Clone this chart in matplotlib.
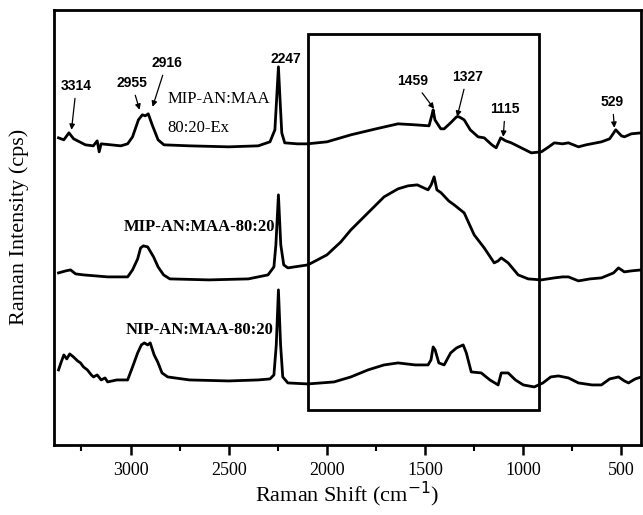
import matplotlib.pyplot as plt
from matplotlib.patches import Rectangle
from matplotlib.ticker import MultipleLocator

# Raman shift (cm-1) / intensite (u.a.)
x_ex = [3367, 3340, 3314, 3290, 3260, 3230, 3190, 3170, 3160, 3150, 3100, 3050, 3015, 2990,
        2960, 2940, 2925, 2910, 2890, 2860, 2830, 2700, 2500, 2350, 2290, 2265, 2255, 2247,
        2240, 2230, 2215, 2150, 2100, 2000, 1878, 1750, 1638, 1550, 1480, 1465, 1459, 1450,
        1420, 1403, 1370, 1340, 1327, 1301, 1270, 1230, 1199, 1160, 1138, 1115, 1090, 1061,
        1000, 959, 908, 870, 842, 800, 770, 719, 680, 602, 560, 529, 500, 485, 450, 398]
y_ex = [307, 305, 312, 306, 303, 300, 299, 304, 293, 301, 300, 299, 301, 308,
        325, 330, 329, 331, 320, 305, 300, 299, 298, 299, 303, 315, 350, 378,
        350, 312, 302, 301, 301, 303, 310, 316, 321, 320, 319, 330, 335, 325,
        316, 316, 322, 328, 328, 325, 315, 308, 307, 300, 297, 307, 304, 302,
        296, 292, 293, 298, 302, 301, 302, 298, 300, 303, 306, 315, 309, 308, 311, 312]

x_mip = [3367, 3330, 3306, 3280, 3240, 3117, 3015, 2990, 2964, 2949, 2935, 2913, 2898, 2883,
         2860, 2832, 2800, 2600, 2400, 2300, 2270, 2260, 2247, 2235, 2220, 2199, 2097, 2000,
         1929, 1878, 1791, 1709, 1638, 1587, 1540, 1485, 1469, 1454, 1440, 1418, 1380, 1352,
         1301, 1250, 1199, 1148, 1128, 1112, 1077, 1026, 975, 908, 842, 800, 770, 719, 660,
         602, 540, 515, 485, 450, 398]
y_mip = [172, 174, 175, 171, 170, 168, 168, 175, 186, 197, 199, 198, 193, 188,
         178, 170, 166, 165, 166, 170, 178, 200, 250, 200, 180, 177, 180, 190,
         203, 215, 232, 248, 256, 259, 260, 255, 260, 268, 255, 252, 244, 240,
         232, 210, 197, 182, 184, 187, 182, 170, 166, 165, 167, 168, 168, 164, 166,
         167, 172, 177, 173, 174, 175]

x_nip = [3367, 3355, 3340, 3325, 3310, 3291, 3270, 3255, 3240, 3220, 3200, 3189, 3170, 3150,
         3130, 3117, 3070, 3015, 2990, 2964, 2945, 2930, 2913, 2900, 2880, 2862, 2840, 2811,
         2700, 2500, 2350, 2290, 2270, 2258, 2247, 2236, 2225, 2199, 2097, 1964, 1878, 1791,
         1709, 1638, 1550, 1485, 1470, 1459, 1449, 1430, 1403, 1370, 1340, 1306, 1290, 1265,
         1214, 1170, 1128, 1112, 1077, 1040, 1000, 944, 900, 860, 821, 770, 719, 650, 602,
         560, 515, 485, 464, 430, 398]
y_nip = [75, 82, 90, 86, 91, 88, 84, 82, 78, 75, 70, 68, 70, 65,
         67, 63, 65, 65, 78, 92, 100, 102, 100, 102, 90, 83, 72, 68,
         65, 64, 65, 66, 70, 100, 155, 100, 68, 62, 61, 63, 68, 75,
         80, 82, 80, 80, 85, 98, 95, 82, 80, 92, 97, 100, 92, 73,
         72, 65, 60, 72, 72, 65, 60, 58, 62, 68, 69, 67, 62, 60, 60,
         66, 68, 64, 62, 66, 68]

# pics annotes : (texte, pointe x, pointe y, texte x, texte y)
peaks = [('3314', 3301, 315, 3276, 359),
         ('2955', 2954, 335, 2995, 362),
         ('2916', 2888, 338, 2816, 382),
         ('1459', 1454, 336, 1561, 364),
         ('1327', 1337, 328, 1286, 368),
         ('1115', 1102, 308, 1092, 336),
         ('529', 536, 317, 546, 343)]

plt.rcParams['font.family'] = 'Liberation Serif'
fig = plt.figure(figsize=(6.43, 5.15), dpi=100)
ax = fig.add_axes([0.084, 0.136, 0.913, 0.845])

for xs, ys in [(x_ex, y_ex), (x_mip, y_mip), (x_nip, y_nip)]:
    ax.plot(xs, ys, color='black', linewidth=2.0)

ax.add_patch(Rectangle((918, 35), 2097 - 918, 376, fill=False, edgecolor='black', linewidth=2.0))

for lab, xp, yp, xt, yt in peaks:
    ax.annotate(lab, xy=(xp, yp), xytext=(xt, yt), ha='center', va='center',
                fontsize=10, fontweight='bold', family='Liberation Sans',
                arrowprops=dict(arrowstyle='-|>', color='black', lw=0.9,
                                mutation_scale=8, shrinkA=2, shrinkB=0))
ax.text(2209, 386, '2247', ha='center', va='center', fontsize=10,
        fontweight='bold', family='Liberation Sans')

ax.text(2811, 346, 'MIP-AN:MAA', ha='left', va='center', fontsize=12)
ax.text(2811, 317, '80:20-Ex', ha='left', va='center', fontsize=12)
ax.text(2262, 218, 'MIP-AN:MAA-80:20', ha='right', va='center', fontsize=12, fontweight='bold')
ax.text(2272, 115, 'NIP-AN:MAA-80:20', ha='right', va='center', fontsize=12, fontweight='bold')

ax.set_xlim(3390, 400)
ax.set_ylim(0, 435)
ax.xaxis.set_major_locator(MultipleLocator(500))
ax.xaxis.set_minor_locator(MultipleLocator(250))
ax.tick_params(axis='x', which='major', direction='out', length=7, width=1.8,
               labelsize=13, pad=5)
ax.tick_params(axis='x', which='minor', direction='out', length=4, width=1.5)
ax.set_yticks([])
for s in ax.spines.values():
    s.set_linewidth(2.0)

ax.set_xlabel('Raman Shift (cm$^{-1}$)', fontsize=16, labelpad=1)
ax.set_ylabel('Raman Intensity (cps)', fontsize=16, labelpad=18)

fig.savefig('out.png', dpi=100)
